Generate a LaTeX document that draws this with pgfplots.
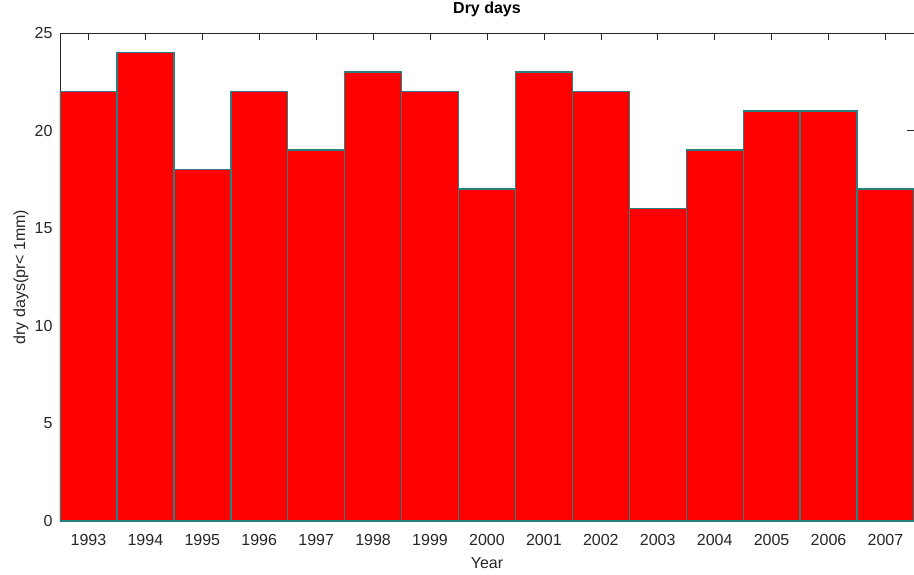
\documentclass[border=0pt]{standalone}
\usepackage{fontspec}
\setmainfont{Liberation Sans}
\usepackage{pgfplots}
\pgfplotsset{compat=1.18}
\definecolor{txt}{RGB}{38,38,38}
\definecolor{edge}{RGB}{40,128,128}
\pgfplotstableread{
year days
1993 22
1994 24
1995 18
1996 22
1997 19
1998 23
1999 22
2000 17
2001 23
2002 22
2003 16
2004 19
2005 21
2006 21
2007 17
}\drydata
\begin{document}
\fontsize{16}{19}\selectfont
\begin{tikzpicture}
\begin{axis}[
  ybar, bar width=1, bar shift=0,
  at={(0pt,0pt)}, anchor=south west,
  set layers,
  scale only axis,
  width=854pt, height=488pt,
  xmin=1992.5, xmax=2007.5,
  ymin=0, ymax=25,
  xtick={1993,...,2007},
  ytick={0,5,...,25},
  /pgf/number format/1000 sep={},
  /pgf/number format/assume math mode=true,
  tick align=inside,
  xtick align=inside,
  ytick align=inside,
  major tick length=7pt,
  tick style={color=txt, line width=0.6pt},
  axis line style={color=txt, line width=0.6pt},
  ticklabel style={color=txt, font=\fontsize{16}{19}\selectfont},
  xticklabel style={yshift=-8pt},
  yticklabel style={xshift=-2pt},
  label style={color=txt, font=\fontsize{16}{19}\selectfont},
  xlabel={Year},
  ylabel={dry days(pr< 1mm)},
  xlabel style={at={(0.5,0)}, anchor=base, yshift=-47pt},
  ylabel style={at={(0,0.5)}, anchor=center, yshift=39pt},
  title={Dry days},
  title style={at={(0.5,1)}, anchor=base, yshift=13pt, font=\bfseries\fontsize{16}{19}\selectfont, color=black},
]
\addplot[fill=red, draw=none] table[x=year, y=days] {\drydata};
\addplot[fill=none, draw=edge, line width=1.4pt] table[x=year, y=days] {\drydata};
\end{axis}
\pgfresetboundingbox
\path[use as bounding box] (-60pt,-53pt) rectangle (854pt,521pt);
\end{tikzpicture}
\end{document}
